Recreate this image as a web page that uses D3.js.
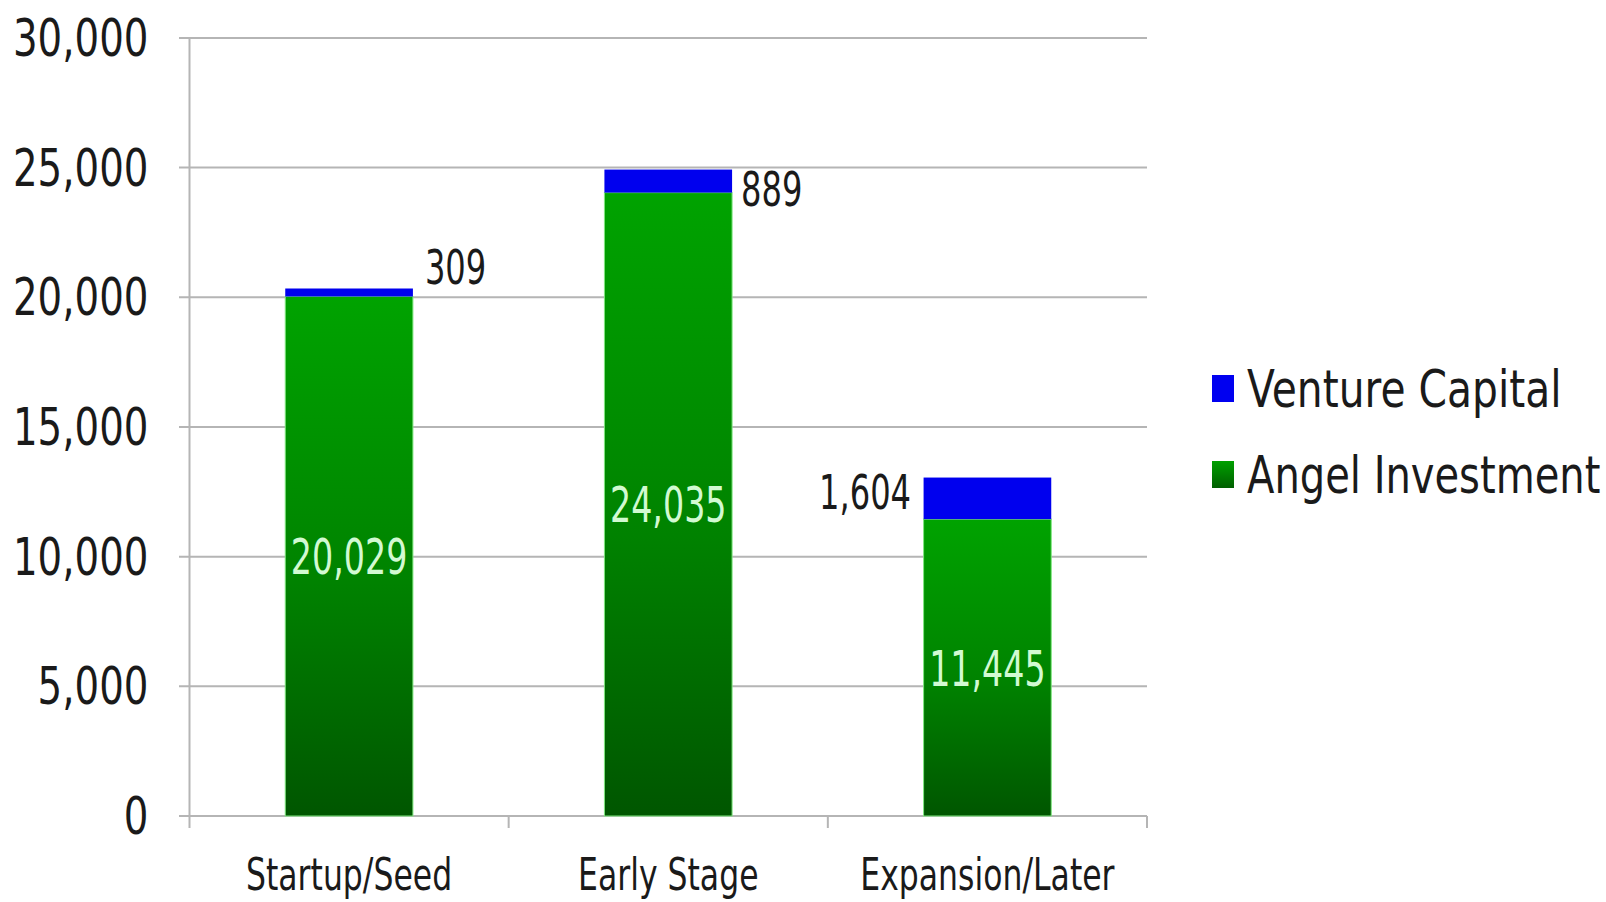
<!DOCTYPE html>
<html>
<head>
<meta charset="utf-8">
<script src="https://cdn.jsdelivr.net/npm/d3@7"></script>
<style>
  html, body { margin: 0; padding: 0; background: #ffffff; }
  svg { display: block; }
  text { font-family: "DejaVu Sans", Verdana, sans-serif; }
</style>
</head>
<body>
<svg id="chart" width="1606" height="902"></svg>
<script>
// ---- data ----
const categories = ["Startup/Seed", "Early Stage", "Expansion/Later"];
const angelInvestment = [20029, 24035, 11445];
const ventureCapital = [309, 889, 1604];
const seriesNames = ["Venture Capital", "Angel Investment"];
const yTicks = [0, 5000, 10000, 15000, 20000, 25000, 30000];

// ---- layout ----
const W = 1606, H = 902;
const plot = { left: 189.5, right: 1147, top: 37.9, bottom: 816 };
// placement of the venture-capital labels (side of bar, baseline offset from stack top)
const vcLabelPlacement = [
  { side: "right", gap: 12, dy: -5 },
  { side: "right", gap: 9, dy: 36.5 },
  { side: "left", gap: 12.5, dy: 31.5 }
];

const svg = d3.select("#chart");

const x = d3.scaleBand()
  .domain(categories)
  .range([plot.left, plot.right])
  .paddingInner(0.6)
  .paddingOuter(0.3);

const y = d3.scaleLinear()
  .domain([0, 30000])
  .range([plot.bottom, plot.top]);

const rows = categories.map((c, i) => ({
  category: c,
  angel: angelInvestment[i],
  venture: ventureCapital[i]
}));
const stack = d3.stack().keys(["angel", "venture"]);
const stacked = stack(rows);

// gradients
const defs = svg.append("defs");
const g1 = defs.append("linearGradient").attr("id", "greenGrad")
  .attr("x1", 0).attr("y1", 0).attr("x2", 0).attr("y2", 1);
g1.append("stop").attr("offset", "0%").attr("stop-color", "#00a300");
g1.append("stop").attr("offset", "55%").attr("stop-color", "#008200");
g1.append("stop").attr("offset", "100%").attr("stop-color", "#005600");
const g2 = defs.append("linearGradient").attr("id", "greenLegend")
  .attr("x1", 0).attr("y1", 0).attr("x2", 0).attr("y2", 1);
g2.append("stop").attr("offset", "0%").attr("stop-color", "#00a000");
g2.append("stop").attr("offset", "100%").attr("stop-color", "#005f00");

// gridlines
const grid = svg.append("g");
grid.selectAll("line.grid").data(yTicks).join("line")
  .attr("class", "grid")
  .attr("x1", plot.left - 10.5)
  .attr("x2", plot.right)
  .attr("y1", d => y(d))
  .attr("y2", d => y(d))
  .attr("stroke", "#b5b5b5")
  .attr("stroke-width", 2);

// y axis line
svg.append("line")
  .attr("x1", plot.left).attr("x2", plot.left)
  .attr("y1", y(30000)).attr("y2", y(0) + 12)
  .attr("stroke", "#b5b5b5").attr("stroke-width", 2);

// category boundary ticks
const boundaries = d3.range(categories.length + 1).map(i => plot.left + i * x.step());
svg.selectAll("line.ctick").data(boundaries.slice(1)).join("line")
  .attr("class", "ctick")
  .attr("x1", d => d).attr("x2", d => d)
  .attr("y1", y(0)).attr("y2", y(0) + 12)
  .attr("stroke", "#b5b5b5").attr("stroke-width", 2);

// y tick labels
const fmt = d3.format(",");
svg.selectAll("text.ylab").data(yTicks).join("text")
  .attr("class", "ylab")
  .attr("transform", d => `translate(${plot.left - 41},${y(d) + 18}) scale(0.76,1)`)
  .attr("text-anchor", "end")
  .attr("font-size", 51)
  .attr("fill", "#1a1a1a")
  .text(d => fmt(d));

// bars
const colors = { angel: "url(#greenGrad)", venture: "#0000ee" };
stacked.forEach(layer => {
  svg.append("g").selectAll("rect").data(layer).join("rect")
    .attr("x", d => x(d.data.category))
    .attr("width", x.bandwidth())
    .attr("y", d => y(d[1]))
    .attr("height", d => y(d[0]) - y(d[1]))
    .attr("fill", colors[layer.key])
    .attr("stroke", layer.key === "angel" ? "#7fe87f" : "none")
    .attr("stroke-width", layer.key === "angel" ? 1 : 0);
});

// inner angel labels
svg.selectAll("text.inlab").data(stacked[0]).join("text")
  .attr("class", "inlab")
  .attr("transform", d => {
    const cx = x(d.data.category) + x.bandwidth() / 2;
    const cy = (y(d[0]) + y(d[1])) / 2 + 18;
    return `translate(${cx},${cy}) scale(0.68,1)`;
  })
  .attr("text-anchor", "middle")
  .attr("font-size", 49)
  .attr("fill", "#d2fad2")
  .text(d => fmt(d.data.angel));

// venture labels
svg.selectAll("text.vclab").data(stacked[1]).join("text")
  .attr("class", "vclab")
  .attr("transform", (d, i) => {
    const p = vcLabelPlacement[i];
    const bx = p.side === "right"
      ? x(d.data.category) + x.bandwidth() + p.gap
      : x(d.data.category) - p.gap;
    return `translate(${bx},${y(d[1]) + p.dy}) scale(0.67,1)`;
  })
  .attr("text-anchor", (d, i) => vcLabelPlacement[i].side === "right" ? "start" : "end")
  .attr("font-size", 48)
  .attr("fill", "#1a1a1a")
  .text(d => fmt(d.data.venture));

// category labels
svg.selectAll("text.clab").data(categories).join("text")
  .attr("class", "clab")
  .attr("transform", d => `translate(${x(d) + x.bandwidth() / 2},890) scale(0.7,1)`)
  .attr("text-anchor", "middle")
  .attr("font-size", 45)
  .attr("fill", "#1a1a1a")
  .text(d => d);

// legend
const legend = svg.append("g");
const legendFills = ["#0000f0", "url(#greenLegend)"];
const legendY = [375, 461];
seriesNames.forEach((name, i) => {
  legend.append("rect")
    .attr("x", 1212).attr("y", legendY[i])
    .attr("width", 22).attr("height", 27)
    .attr("fill", legendFills[i]);
  legend.append("text")
    .attr("transform", `translate(1247,${legendY[i] + 32}) scale(${i === 0 ? 0.785 : 0.77},1)`)
    .attr("font-size", 52)
    .attr("fill", "#1a1a1a")
    .text(name);
});
</script>
</body>
</html>
